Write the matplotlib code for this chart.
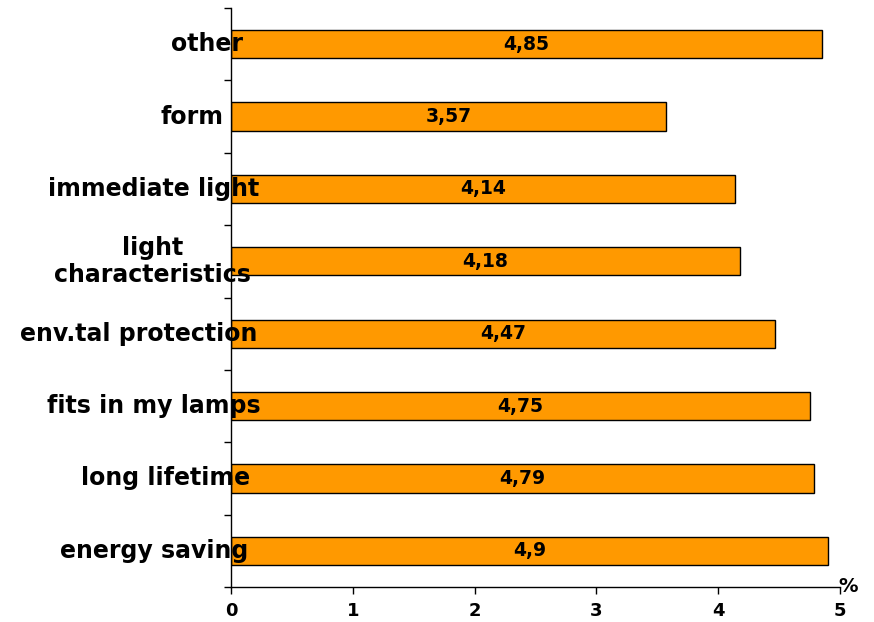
import matplotlib
matplotlib.use("Agg")
import matplotlib.pyplot as plt
import numpy as np
from matplotlib.transforms import offset_copy

categories = ["energy saving", "long lifetime", "fits in my lamps", "env.tal protection",
              "light\ncharacteristics", "immediate light", "form", "other"]
values = [4.9, 4.79, 4.75, 4.47, 4.18, 4.14, 3.57, 4.85]
value_labels = ["4,9", "4,79", "4,75", "4,47", "4,18", "4,14", "3,57", "4,85"]
x_ticks = [0, 1, 2, 3, 4, 5]

# right edge of each category label, in pixels from the y axis
label_right = [17, 19, 30, 26, 20, 28, -7, 12]

plt.rcParams['font.family'] = ['DejaVu Sans']
fig = plt.figure(figsize=(8.74, 6.22), dpi=100)
ax = fig.add_axes([231 / 874, 1 - 587 / 622, (840 - 231) / 874, (587 - 8) / 622])

y = np.arange(len(categories))
ax.barh(y, values, height=0.39, color="#FF9900", edgecolor="black", linewidth=1.0, zorder=2)

for yi, v, lab in zip(y, values, value_labels):
    ax.text(v / 2, yi, lab, ha="center", va="center", fontsize=13.5, fontweight="bold", zorder=3)

ax.set_xlim(0, 5)
ax.set_ylim(-0.5, len(categories) - 0.5)
ax.set_xticks(x_ticks)
ax.set_xticklabels([str(t) for t in x_ticks], fontsize=13, fontweight="bold")
ax.tick_params(axis="x", direction="out", length=5, width=1, pad=6)
ax.set_yticks(np.arange(-0.5, len(categories), 1.0))
ax.set_yticklabels([])
ax.tick_params(axis="y", direction="out", length=5, width=1)

for s in ("top", "right"):
    ax.spines[s].set_visible(False)
for s in ("left", "bottom"):
    ax.spines[s].set_linewidth(1.0)

for yi, cat, dx in zip(y, categories, label_right):
    tr = offset_copy(ax.transData, fig=fig, x=dx, y=0, units="dots")
    ax.text(0, yi, cat, ha="right", va="center", multialignment="center",
            fontsize=17, fontweight="bold", transform=tr, zorder=4, linespacing=1.15)

ax.text(5.07, -0.5, "%", ha="center", va="center", fontsize=14, fontweight="bold",
        transform=ax.transData, clip_on=False)

fig.savefig("out.png", dpi=100)
